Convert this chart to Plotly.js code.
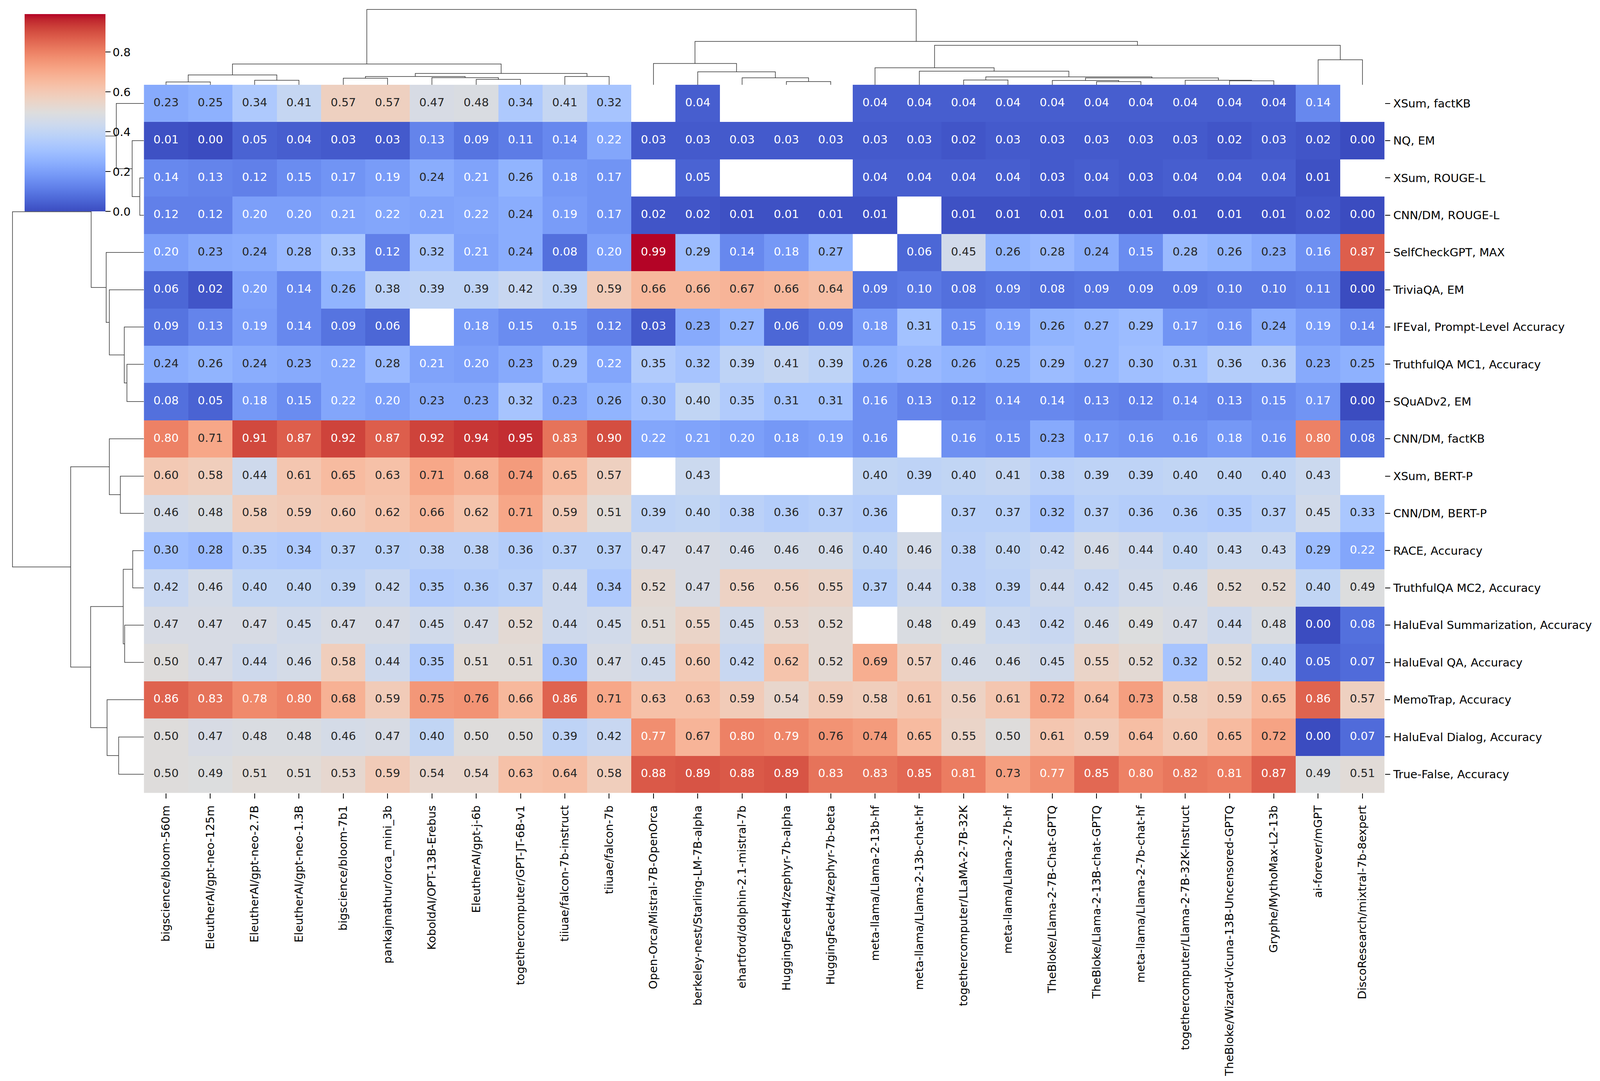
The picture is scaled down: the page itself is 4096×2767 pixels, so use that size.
<!DOCTYPE html>
<html><head><meta charset="utf-8">
<script src="https://cdn.plot.ly/plotly-3.0.1.min.js"></script>
<style>html,body{margin:0;padding:0;background:#fff;}#chart{width:4096px;height:2767px;}</style>
</head><body><div id="chart"></div>
<script>
// ---------- DATA ----------
const colLabels = [
  "bigscience/bloom-560m","EleutherAI/gpt-neo-125m","EleutherAI/gpt-neo-2.7B","EleutherAI/gpt-neo-1.3B",
  "bigscience/bloom-7b1","pankajmathur/orca_mini_3b","KoboldAI/OPT-13B-Erebus","EleutherAI/gpt-j-6b",
  "togethercomputer/GPT-JT-6B-v1","tiiuae/falcon-7b-instruct","tiiuae/falcon-7b","Open-Orca/Mistral-7B-OpenOrca",
  "berkeley-nest/Starling-LM-7B-alpha","ehartford/dolphin-2.1-mistral-7b","HuggingFaceH4/zephyr-7b-alpha",
  "HuggingFaceH4/zephyr-7b-beta","meta-llama/Llama-2-13b-hf","meta-llama/Llama-2-13b-chat-hf",
  "togethercomputer/LLaMA-2-7B-32K","meta-llama/Llama-2-7b-hf","TheBloke/Llama-2-7B-Chat-GPTQ",
  "TheBloke/Llama-2-13B-chat-GPTQ","meta-llama/Llama-2-7b-chat-hf","togethercomputer/Llama-2-7B-32K-Instruct",
  "TheBloke/Wizard-Vicuna-13B-Uncensored-GPTQ","Gryphe/MythoMax-L2-13b","ai-forever/mGPT","DiscoResearch/mixtral-7b-8expert"
];
const rowLabels = [
  "XSum, factKB","NQ, EM","XSum, ROUGE-L","CNN/DM, ROUGE-L","SelfCheckGPT, MAX","TriviaQA, EM",
  "IFEval, Prompt-Level Accuracy","TruthfulQA MC1, Accuracy","SQuADv2, EM","CNN/DM, factKB","XSum, BERT-P",
  "CNN/DM, BERT-P","RACE, Accuracy","TruthfulQA MC2, Accuracy","HaluEval Summarization, Accuracy",
  "HaluEval QA, Accuracy","MemoTrap, Accuracy","HaluEval Dialog, Accuracy","True-False, Accuracy"
];
const N = null;
const xsumFactKB   = [0.23,0.25,0.34,0.41,0.57,0.57,0.47,0.48,0.34,0.41,0.32,N,0.04,N,N,N,0.04,0.04,0.04,0.04,0.04,0.04,0.04,0.04,0.04,0.04,0.14,N];
const nqEM         = [0.01,0.00,0.05,0.04,0.03,0.03,0.13,0.09,0.11,0.14,0.22,0.03,0.03,0.03,0.03,0.03,0.03,0.03,0.02,0.03,0.03,0.03,0.03,0.03,0.02,0.03,0.02,0.00];
const xsumRouge    = [0.14,0.13,0.12,0.15,0.17,0.19,0.24,0.21,0.26,0.18,0.17,N,0.05,N,N,N,0.04,0.04,0.04,0.04,0.03,0.04,0.03,0.04,0.04,0.04,0.01,N];
const cnnRouge     = [0.12,0.12,0.20,0.20,0.21,0.22,0.21,0.22,0.24,0.19,0.17,0.02,0.02,0.01,0.01,0.01,0.01,N,0.01,0.01,0.01,0.01,0.01,0.01,0.01,0.01,0.02,0.00];
const selfCheckMax = [0.20,0.23,0.24,0.28,0.33,0.12,0.32,0.21,0.24,0.08,0.20,0.99,0.29,0.14,0.18,0.27,N,0.06,0.45,0.26,0.28,0.24,0.15,0.28,0.26,0.23,0.16,0.87];
const triviaEM     = [0.06,0.02,0.20,0.14,0.26,0.38,0.39,0.39,0.42,0.39,0.59,0.66,0.66,0.67,0.66,0.64,0.09,0.10,0.08,0.09,0.08,0.09,0.09,0.09,0.10,0.10,0.11,0.00];
const ifevalAcc    = [0.09,0.13,0.19,0.14,0.09,0.06,N,0.18,0.15,0.15,0.12,0.03,0.23,0.27,0.06,0.09,0.18,0.31,0.15,0.19,0.26,0.27,0.29,0.17,0.16,0.24,0.19,0.14];
const tqaMC1       = [0.24,0.26,0.24,0.23,0.22,0.28,0.21,0.20,0.23,0.29,0.22,0.35,0.32,0.39,0.41,0.39,0.26,0.28,0.26,0.25,0.29,0.27,0.30,0.31,0.36,0.36,0.23,0.25];
const squadEM      = [0.08,0.05,0.18,0.15,0.22,0.20,0.23,0.23,0.32,0.23,0.26,0.30,0.40,0.35,0.31,0.31,0.16,0.13,0.12,0.14,0.14,0.13,0.12,0.14,0.13,0.15,0.17,0.00];
const cnnFactKB    = [0.80,0.71,0.91,0.87,0.92,0.87,0.92,0.94,0.95,0.83,0.90,0.22,0.21,0.20,0.18,0.19,0.16,N,0.16,0.15,0.23,0.17,0.16,0.16,0.18,0.16,0.80,0.08];
const xsumBertP    = [0.60,0.58,0.44,0.61,0.65,0.63,0.71,0.68,0.74,0.65,0.57,N,0.43,N,N,N,0.40,0.39,0.40,0.41,0.38,0.39,0.39,0.40,0.40,0.40,0.43,N];
const cnnBertP     = [0.46,0.48,0.58,0.59,0.60,0.62,0.66,0.62,0.71,0.59,0.51,0.39,0.40,0.38,0.36,0.37,0.36,N,0.37,0.37,0.32,0.37,0.36,0.36,0.35,0.37,0.45,0.33];
const raceAcc      = [0.30,0.28,0.35,0.34,0.37,0.37,0.38,0.38,0.36,0.37,0.37,0.47,0.47,0.46,0.46,0.46,0.40,0.46,0.38,0.40,0.42,0.46,0.44,0.40,0.43,0.43,0.29,0.22];
const tqaMC2       = [0.42,0.46,0.40,0.40,0.39,0.42,0.35,0.36,0.37,0.44,0.34,0.52,0.47,0.56,0.56,0.55,0.37,0.44,0.38,0.39,0.44,0.42,0.45,0.46,0.52,0.52,0.40,0.49];
const haluSumm     = [0.47,0.47,0.47,0.45,0.47,0.47,0.45,0.47,0.52,0.44,0.45,0.51,0.55,0.45,0.53,0.52,N,0.48,0.49,0.43,0.42,0.46,0.49,0.47,0.44,0.48,0.00,0.08];
const haluQA       = [0.50,0.47,0.44,0.46,0.58,0.44,0.35,0.51,0.51,0.30,0.47,0.45,0.60,0.42,0.62,0.52,0.69,0.57,0.46,0.46,0.45,0.55,0.52,0.32,0.52,0.40,0.05,0.07];
const memoTrap     = [0.86,0.83,0.78,0.80,0.68,0.59,0.75,0.76,0.66,0.86,0.71,0.63,0.63,0.59,0.54,0.59,0.58,0.61,0.56,0.61,0.72,0.64,0.73,0.58,0.59,0.65,0.86,0.57];
const haluDialog   = [0.50,0.47,0.48,0.48,0.46,0.47,0.40,0.50,0.50,0.39,0.42,0.77,0.67,0.80,0.79,0.76,0.74,0.65,0.55,0.50,0.61,0.59,0.64,0.60,0.65,0.72,0.00,0.07];
const trueFalse    = [0.50,0.49,0.51,0.51,0.53,0.59,0.54,0.54,0.63,0.64,0.58,0.88,0.89,0.88,0.89,0.83,0.83,0.85,0.81,0.73,0.77,0.85,0.80,0.82,0.81,0.87,0.49,0.51];

// Linkages (scipy style: [a, b, height]; ids >= n refer to earlier merges). Heights relative to root = 100.
const colLinkage = [
  [0,1,3.7],[2,3,6.0],[28,29,13.1],[7,8,7.2],[6,31,9.5],[4,5,8.7],[33,32,11.0],[9,10,11.0],
  [34,35,15.0],[30,36,27.7],[14,15,4.3],[13,38,9.2],[12,39,17.2],[11,40,28.3],[18,19,6.3],
  [21,22,4.2],[20,43,5.7],[24,25,5.3],[23,45,6.0],[44,46,9.1],[42,47,10.5],[17,48,18.0],
  [16,49,22.6],[26,27,33.2],[50,51,52.4],[41,52,57.6],[37,53,100]
];
const rowLinkage = [
  [2,3,3.1],[1,19,8.9],[0,20,21.0],[7,8,12.9],[6,22,14.9],[5,23,26.3],[4,24,28.7],[21,25,40.1],
  [10,11,17.9],[9,27,26.3],[12,13,8.5],[14,15,14.6],[29,30,15.7],[17,18,19.2],[16,32,28.0],
  [31,33,40.5],[28,34,55.7],[26,35,100]
];
const cbTicks = [0.0,0.2,0.4,0.6,0.8];

// ---------- COLORMAP (matplotlib coolwarm) ----------
const coolwarm = [
 [0.2298057,0.298717966,0.753683153],[0.26623388,0.353094838,0.801466763],[0.30386891,0.406535296,0.84495867],
 [0.342804478,0.458757618,0.883725899],[0.38301334,0.50941904,0.917387822],[0.424369608,0.558148092,0.945619588],
 [0.46666708,0.604562568,0.968154911],[0.509635204,0.648280772,0.98478814],[0.552953156,0.688929332,0.995375608],
 [0.596262162,0.726149107,0.999836203],[0.639176211,0.759599947,0.998151185],[0.681291281,0.788964712,0.990363227],
 [0.722193294,0.813952739,0.976574709],[0.761464949,0.834302879,0.956945269],[0.798691636,0.849786142,0.931688648],
 [0.833466556,0.860207984,0.901068838],[0.865395197,0.86541021,0.865395561],[0.897787179,0.848937047,0.820880546],
 [0.924127593,0.827384882,0.774508472],[0.944468518,0.800927443,0.726736146],[0.958852946,0.769767752,0.678007945],
 [0.96732803,0.734132809,0.628751763],[0.969954137,0.694266682,0.579375448],[0.966811177,0.650421156,0.530263762],
 [0.958003065,0.602842431,0.481775914],[0.943660866,0.551750968,0.434243684],[0.923944917,0.497308236,0.387970225],
 [0.89904617,0.439559467,0.343229596],[0.869186849,0.378313092,0.300267182],[0.834620542,0.312874446,0.259301199],
 [0.795631745,0.24128379,0.220525627],[0.752534934,0.157246067,0.184115123],[0.705673158,0.01555616,0.150232812]
];
const colorscale = coolwarm.map((c,i)=>[i/(coolwarm.length-1),
  `rgb(${Math.round(c[0]*255)},${Math.round(c[1]*255)},${Math.round(c[2]*255)})`]);
function cmap(t){
  t=Math.max(0,Math.min(1,t)); const f=t*(coolwarm.length-1); const i=Math.min(Math.floor(f),coolwarm.length-2); const u=f-i;
  return [0,1,2].map(k=>coolwarm[i][k]*(1-u)+coolwarm[i+1][k]*u);
}
function lum(rgb){
  const l=rgb.map(v=> v<=0.03928 ? v/12.92 : Math.pow((v+0.055)/1.055,2.4));
  return 0.2126*l[0]+0.7152*l[1]+0.0722*l[2];
}

// ---------- BUILD ----------
const z = [xsumFactKB,nqEM,xsumRouge,cnnRouge,selfCheckMax,triviaEM,ifevalAcc,tqaMC1,squadEM,cnnFactKB,
           xsumBertP,cnnBertP,raceAcc,tqaMC2,haluSumm,haluQA,memoTrap,haluDialog,trueFalse];
const flat = z.flat().filter(v=>v!==null);
const vmin = Math.min(...flat), vmax = Math.max(...flat);
const nC = colLabels.length, nR = rowLabels.length;
const colIdx = colLabels.map((_,i)=>i), rowIdx = rowLabels.map((_,i)=>i);

const tx=[],ty=[],tt=[],tc=[];
z.forEach((row,r)=>row.forEach((v,c)=>{
  if(v===null) return;
  tx.push(c); ty.push(r); tt.push(v.toFixed(2));
  tc.push(lum(cmap((v-vmin)/(vmax-vmin)))>0.408 ? 'rgb(38,38,38)' : '#ffffff');
}));

function dendroSegments(link, n){
  const pos={}, hgt={};
  for(let i=0;i<n;i++){pos[i]=i;hgt[i]=0;}
  const p=[],h=[];
  link.forEach((m,k)=>{
    const id=n+k, a=m[0], b=m[1], H=m[2];
    p.push(pos[a],pos[a],pos[b],pos[b],null);
    h.push(hgt[a],H,H,hgt[b],null);
    pos[id]=(pos[a]+pos[b])/2; hgt[id]=H;
  });
  return {p,h};
}
const cd = dendroSegments(colLinkage,nC);
const rd = dendroSegments(rowLinkage,nR);

// ---------- LAYOUT GEOMETRY ----------
const W=4096,H=2767;
const hmL=368.3, hmR=3544.6, hmT=217.0, hmB=2029.5;
const xd=[hmL/W,hmR/W], yd=[1-hmB/H,1-hmT/H];
const FONT='DejaVu Sans', FS=29.1;
const lineStyle={color:'#333333',width:1.5};

const traces = [
  {type:'heatmap', z:z, x:colIdx, y:rowIdx, zmin:vmin, zmax:vmax, colorscale:colorscale,
   xaxis:'x', yaxis:'y', hoverinfo:'skip', xgap:0, ygap:0,
   colorbar:{thickness:206.6, thicknessmode:'pixels', len:504.6, lenmode:'pixels',
     x:62.7/W, xanchor:'left', xref:'paper', y:1-36.4/H, yanchor:'top', yref:'paper',
     xpad:0, ypad:0, outlinewidth:0, borderwidth:0, ticks:'outside', ticklen:13, tickwidth:2,
     tickcolor:'#000', tickvals:cbTicks, ticktext:cbTicks.map(v=>v.toFixed(1)),
     tickfont:{family:FONT,size:FS,color:'#000'}, ticklabelstandoff:4}},
  {type:'scatter', mode:'text', x:tx, y:ty, text:tt, xaxis:'x', yaxis:'y', hoverinfo:'skip',
   textposition:'middle center', textfont:{family:FONT,size:FS,color:tc}, showlegend:false},
  {type:'scatter', mode:'lines', x:cd.p, y:cd.h, xaxis:'x2', yaxis:'y2', line:lineStyle,
   hoverinfo:'skip', showlegend:false, connectgaps:false},
  {type:'scatter', mode:'lines', x:rd.h, y:rd.p, xaxis:'x3', yaxis:'y3', line:lineStyle,
   hoverinfo:'skip', showlegend:false, connectgaps:false}
];

const hidden = {showgrid:false, zeroline:false, showline:false, showticklabels:false, ticks:''};
const layout = {
  width:W, height:H, margin:{l:0,r:0,t:0,b:0,pad:0},
  paper_bgcolor:'#ffffff', plot_bgcolor:'#ffffff', showlegend:false,
  font:{family:FONT,size:FS,color:'#000'},
  xaxis:{domain:xd, range:[-0.5,nC-0.5], anchor:'y', tickvals:colIdx, ticktext:colLabels,
    tickangle:-90, ticks:'outside', ticklen:13.3, tickwidth:2, tickcolor:'#000', side:'bottom',
    showgrid:false, zeroline:false, showline:false, tickfont:{family:FONT,size:FS,color:'#000'},
    ticklabelstandoff:6},
  yaxis:{domain:yd, range:[nR-0.5,-0.5], anchor:'x', tickvals:rowIdx, ticktext:rowLabels,
    side:'right', ticks:'outside', ticklen:13.3, tickwidth:2, tickcolor:'#000',
    showgrid:false, zeroline:false, showline:false, tickfont:{family:FONT,size:FS,color:'#000'},
    ticklabelstandoff:2},
  xaxis2:Object.assign({domain:xd, range:[-0.5,nC-0.5], anchor:'y2'},hidden),
  yaxis2:Object.assign({domain:[yd[1],1], range:[0,112.65], anchor:'x2'},hidden),
  xaxis3:Object.assign({domain:[0,xd[0]], range:[109.5,0], anchor:'y3'},hidden),
  yaxis3:Object.assign({domain:yd, range:[nR-0.5,-0.5], anchor:'x3'},hidden)
};
Plotly.newPlot('chart', traces, layout, {displayModeBar:false, staticPlot:true});
</script></body></html>
